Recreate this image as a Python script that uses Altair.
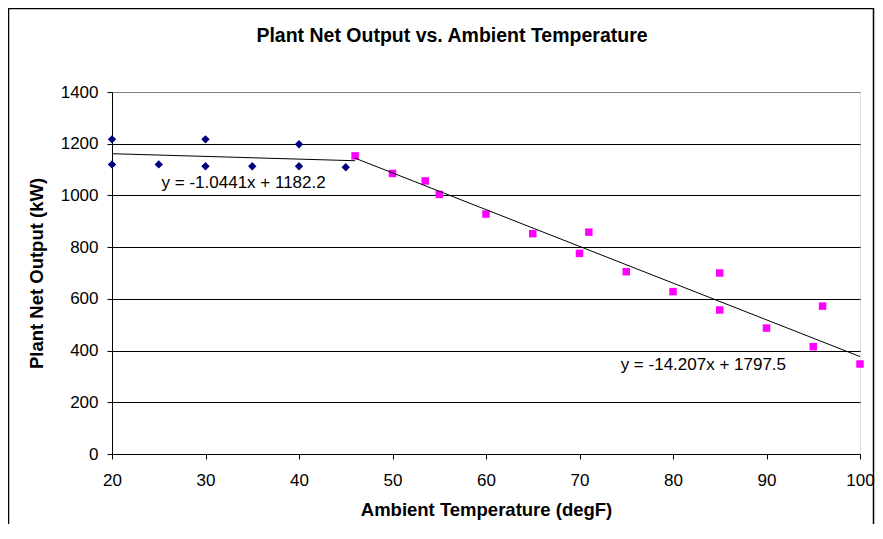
import altair as alt
import pandas as pd

# --- data ---
low_temp = [20, 20, 25, 30, 30, 35, 40, 40, 45]
low_output = [1217, 1120, 1120, 1217, 1113, 1113, 1198, 1113, 1109]

high_temp = [46, 50, 53.5, 55, 60, 65, 70, 71, 75, 80, 85, 85, 90, 95, 96, 100]
high_output = [1153, 1085, 1056, 1004, 928, 852, 776, 858, 705, 628, 700, 557, 487, 415, 572, 348]

# trendlines (from the equations shown on the chart)
trend_names = ["low", "high"]
trend_slopes = [-1.0441, -14.207]
trend_intercepts = [1182.2, 1797.5]
trend_x_start = [20, 46]
trend_x_end = [46, 100]

eq_labels = ["y = -1.0441x + 1182.2", "y = -14.207x + 1797.5"]
eq_x = [25.3, 74.4]
eq_y = [1048, 344]

x_ticks = [20, 30, 40, 50, 60, 70, 80, 90, 100]
y_ticks = [0, 200, 400, 600, 800, 1000, 1200, 1400]

FONT = "Liberation Sans"

df_low = pd.DataFrame({"temp": low_temp, "output": low_output})
df_high = pd.DataFrame({"temp": high_temp, "output": high_output})

rows = []
for n, m, b, x0, x1 in zip(trend_names, trend_slopes, trend_intercepts, trend_x_start, trend_x_end):
    rows.append({"name": n, "temp": x0, "output": m * x0 + b})
    rows.append({"name": n, "temp": x1, "output": m * x1 + b})
df_trend = pd.DataFrame(rows)
df_eq = pd.DataFrame({"label": eq_labels, "temp": eq_x, "output": eq_y})

x_scale = alt.Scale(domain=[20, 100], nice=False, zero=False)
y_scale = alt.Scale(domain=[0, 1400], nice=False)

x_axis = alt.Axis(
    values=x_ticks, title="Ambient Temperature (degF)", grid=False, format="d",
    labelFont=FONT, labelFontSize=17, labelColor="black", labelPadding=13,
    labelFlush=False, labelOverlap=False,
    tickSize=5, tickColor="black", domainColor="black",
    titleFont=FONT, titleFontSize=18.5, titleFontWeight="bold", titleColor="black",
    titlePadding=12,
)
y_axis = alt.Axis(
    values=y_ticks, title="Plant Net Output (kW)", grid=True, format="d",
    gridColor={"condition": {"test": "datum.value == 1400", "value": "#808080"}, "value": "black"},
    gridWidth=1,
    labelFont=FONT, labelFontSize=17, labelColor="black", labelPadding=9,
    labelOverlap=False,
    tickSize=5, tickColor="black", domainColor="black",
    titleFont=FONT, titleFontSize=18.5, titleFontWeight="bold", titleColor="black",
    titlePadding=14,
)

x_enc = alt.X("temp:Q", scale=x_scale, axis=x_axis)
y_enc = alt.Y("output:Q", scale=y_scale, axis=y_axis)

border = alt.Chart(pd.DataFrame({"a": [0]})).mark_rect(
    fill=None, stroke="black", strokeWidth=1.5, clip=False
).encode(
    x=alt.value(-103.5), x2=alt.value(761.5), y=alt.value(-83.5), y2=alt.value(470)
)

trend = alt.Chart(df_trend).mark_line(color="black", strokeWidth=1).encode(
    x=alt.X("temp:Q", scale=x_scale), y=alt.Y("output:Q", scale=y_scale), detail="name:N"
)

pts_low = alt.Chart(df_low).mark_point(
    shape="diamond", filled=True, color="#000080", size=70, opacity=1
).encode(x=x_enc, y=y_enc)

pts_high = alt.Chart(df_high).mark_point(
    shape="square", filled=True, color="#FF00FF", size=56, opacity=1
).encode(x=alt.X("temp:Q", scale=x_scale), y=alt.Y("output:Q", scale=y_scale))

eq_text = alt.Chart(df_eq).mark_text(
    align="left", baseline="middle", font=FONT, fontSize=17, color="black"
).encode(x=alt.X("temp:Q", scale=x_scale), y=alt.Y("output:Q", scale=y_scale), text="label:N")

chart = alt.layer(border, pts_low, pts_high, trend, eq_text).properties(
    width=748,
    height=362,
    title=alt.TitleParams(
        "Plant Net Output vs. Ambient Temperature",
        font=FONT, fontSize=19.5, fontWeight="bold", color="black",
        anchor="middle", frame="group", dx=-34, offset=-54, baseline="alphabetic",
    ),
    autosize=alt.AutoSizeParams(type="none"),
    padding={"left": 104, "top": 84, "right": 15, "bottom": 70},
).configure_view(
    stroke="#808080", strokeWidth=1
).configure(background="white")

chart.save("out.html", embed_options={"renderer": "svg", "actions": False})
